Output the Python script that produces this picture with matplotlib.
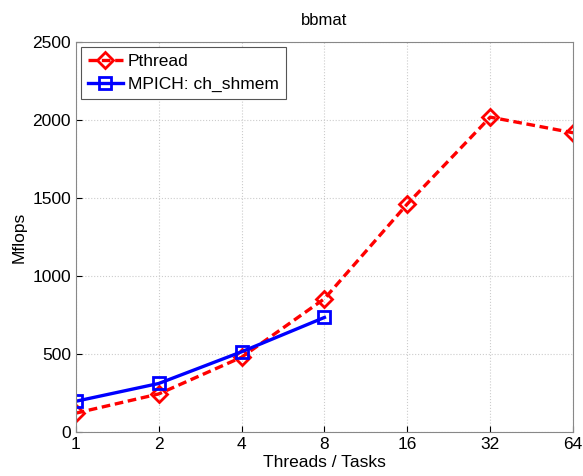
import numpy as np
import matplotlib.pyplot as plt

plt.rcParams['font.family'] = 'Liberation Sans'

# Data
threads = ['1', '2', '4', '8', '16', '32', '64']
pthread = [122, 245, 480, 855, 1462, 2018, 1918]
mpich = [198, 312, 515, 735]

x = np.arange(len(threads))

fig = plt.figure(figsize=(5.83, 4.76), dpi=100)
ax = fig.add_axes([0.130, 0.092, 0.853, 0.820])

ax.plot(x, pthread, '--', color='red', linewidth=2.4, marker='D', markersize=8.5,
        markerfacecolor='none', markeredgewidth=2, dashes=(2.6, 1.4),
        label='Pthread')
ax.plot(x[:len(mpich)], mpich, '-', color='blue', linewidth=2.4, marker='s',
        markersize=8.5, markerfacecolor='none', markeredgewidth=2,
        label='MPICH: ch_shmem')

ax.set_xlim(0, len(threads) - 1)
ax.set_ylim(0, 2500)
ax.set_xticks(x)
ax.set_xticklabels(threads)
ax.set_yticks(np.arange(0, 2501, 500))
ax.tick_params(direction='in', labelsize=12.5, length=4)
ax.grid(True, linestyle=':', color='#cccccc', linewidth=0.8)
for s in ax.spines.values():
    s.set_color('#888888')

ax.set_xlabel('Threads / Tasks', fontsize=12.5, labelpad=2)
ax.set_ylabel('Mflops', fontsize=12.5)
ax.set_title('bbmat', fontsize=12, pad=12)

leg = ax.legend(loc='upper left', fontsize=12.5, fancybox=False, framealpha=1,
                edgecolor='#555555', handlelength=2.0, borderaxespad=0.3,
                borderpad=0.4, labelspacing=0.45, handletextpad=0.3)
leg.get_frame().set_linewidth(0.8)

fig.savefig('out.png', dpi=100)
